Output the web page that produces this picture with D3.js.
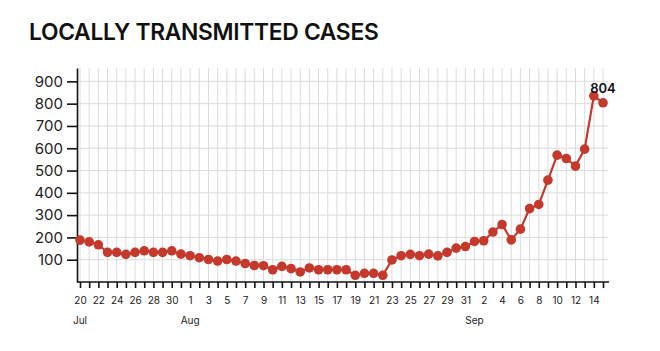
<!DOCTYPE html>
<html>
<head>
<meta charset="utf-8">
<script src="https://cdn.jsdelivr.net/npm/d3@7"></script>
<style>
  body { margin: 0; background: #fff; }
  .axis text { font-family: "Inter", "Noto Sans", sans-serif; fill: #222; }
  .grid line { stroke: #dcdcdc; stroke-width: 1; }
</style>
</head>
<body>
<div class="chart"></div>
<script>
// daily locally transmitted cases, 20 Jul - 15 Sep
var firstDay = "2021-07-20";
var lastDay = "2021-09-15";
var cases = [
  188, 180, 167, 133, 133, 124, 133, 140, 133, 133, 140, 125,           // Jul 20-31
  118, 109, 101, 94, 101, 94, 83, 74, 73, 55, 70, 60, 45, 63, 55, 55,   // Aug 1-16
  55, 55, 30, 39, 39, 30, 99, 118, 124, 118, 125, 117, 133, 152, 159,   // Aug 17-31
  182, 185, 224, 258, 189, 237, 329, 348, 457, 569, 554, 520, 596, 835, 804 // Sep 1-15
];
var yTicks = [100, 200, 300, 400, 500, 600, 700, 800, 900];
var monthLabels = ["Jul", "Aug", "Sep"];
var monthDays = ["2021-07-20", "2021-08-01", "2021-09-01"];

var parse = d3.timeParse("%Y-%m-%d");
var days = d3.timeDay.range(parse(firstDay), d3.timeDay.offset(parse(lastDay), 1));
var data = days.map(function(d, i) { return {date: d, value: cases[i]}; });
// label every second day starting from the first one
var labelledDays = days.filter(function(d, i) { return i % 2 === 0; });

var width = 660, height = 351;
var margin = {top: 68, right: 57, bottom: 69, left: 80};

var x = d3.scaleTime()
    .domain([days[0], days[days.length - 1]])
    .range([margin.left, width - margin.right]);
var y = d3.scaleLinear()
    .domain([0, 960])
    .range([height - margin.bottom, margin.top]);

var svg = d3.select(".chart")
    .append("svg")
    .attr("width", width)
    .attr("height", height);

// title
svg.append("text")
    .attr("x", 29)
    .attr("y", 40)
    .style("font-family", "Inter, sans-serif")
    .style("font-weight", 600)
    .style("font-size", "22.8px")
    .style("letter-spacing", "-0.3px")
    .style("fill", "#111")
    .text("LOCALLY TRANSMITTED CASES");

// grid
var grid = svg.append("g").classed("grid", true);
grid.selectAll(".vline")
    .data(days)
  .enter().append("line")
    .attr("x1", function(d) { return x(d); })
    .attr("x2", function(d) { return x(d); })
    .attr("y1", y.range()[1])
    .attr("y2", y.range()[0]);
grid.selectAll(".hline")
    .data(yTicks)
  .enter().append("line")
    .attr("x1", margin.left - 3)
    .attr("x2", width - margin.right + 5)
    .attr("y1", function(d) { return y(d); })
    .attr("y2", function(d) { return y(d); });

// x axis
var xAxis = svg.append("g")
    .classed("axis", true)
    .attr("transform", "translate(0," + y(0) + ")")
    .call(d3.axisBottom(x)
        .tickValues(days)
        .tickSize(6)
        .tickSizeOuter(0)
        .tickPadding(9)
        .tickFormat(function(d) {
          return labelledDays.some(function(l) { return +l === +d; }) ? d3.timeFormat("%-d")(d) : "";
        }));
xAxis.select(".domain").remove();
xAxis.selectAll(".tick line").attr("stroke", "#111").attr("stroke-width", 1.6);
xAxis.selectAll("text").style("font-size", "10px");
xAxis.append("line")
    .attr("x1", margin.left - 3)
    .attr("x2", width - margin.right + 6)
    .attr("stroke", "#111")
    .attr("stroke-width", 1.6);

// month names under the day labels
svg.append("g")
    .classed("axis", true)
    .selectAll("text")
    .data(monthLabels)
  .enter().append("text")
    .attr("x", function(d, i) { return x(parse(monthDays[i])); })
    .attr("y", 324)
    .style("text-anchor", "middle")
    .style("font-size", "10px")
    .text(function(d) { return d; });

// y axis
var yAxis = svg.append("g")
    .classed("axis", true)
    .attr("transform", "translate(" + (margin.left - 3) + ",0)")
    .call(d3.axisLeft(y)
        .tickValues(yTicks)
        .tickSize(10)
        .tickSizeOuter(0)
        .tickPadding(4));
yAxis.select(".domain").attr("stroke", "#111").attr("stroke-width", 1.6);
yAxis.selectAll(".tick line").attr("stroke", "#111").attr("stroke-width", 1.6);
yAxis.selectAll("text").style("font-size", "15px");

// line and dots
var red = "#c4392b";
svg.append("path")
    .datum(data)
    .attr("fill", "none")
    .attr("stroke", red)
    .attr("stroke-width", 2.2)
    .attr("d", d3.line()
        .x(function(d) { return x(d.date); })
        .y(function(d) { return y(d.value); }));

svg.selectAll(".dot")
    .data(data)
  .enter().append("circle")
    .classed("dot", true)
    .attr("cx", function(d) { return x(d.date); })
    .attr("cy", function(d) { return y(d.value); })
    .attr("r", 4.8)
    .attr("fill", red);

// label the latest value
var last = data[data.length - 1];
svg.append("text")
    .attr("x", x(last.date))
    .attr("y", y(last.value) - 10)
    .style("text-anchor", "middle")
    .style("font-family", "Inter, sans-serif")
    .style("font-weight", 600)
    .style("font-size", "13px")
    .style("fill", "#111")
    .text(last.value);
</script>
</body>
</html>
